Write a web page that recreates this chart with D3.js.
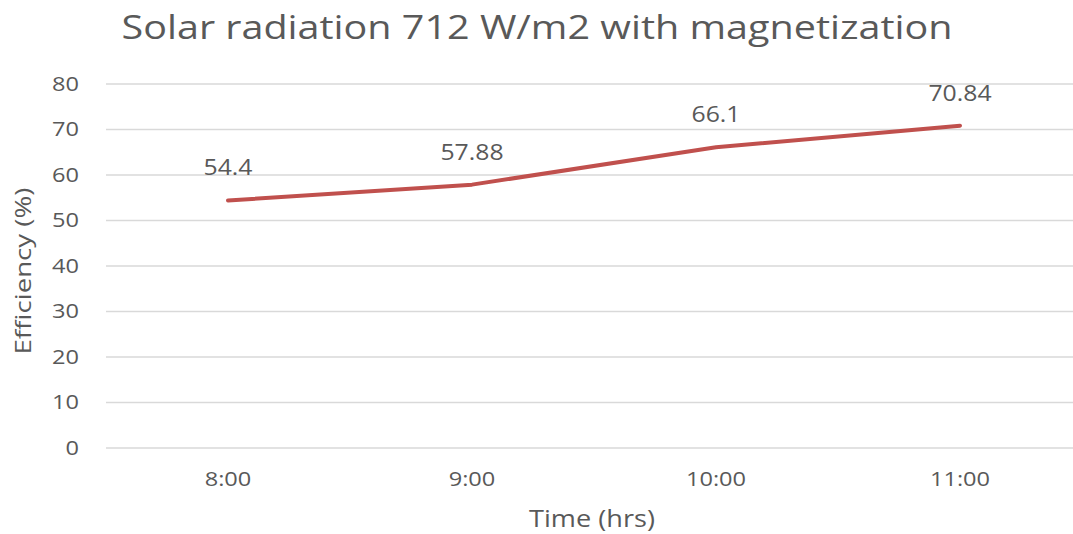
<!DOCTYPE html>
<html>
<head>
<meta charset="utf-8">
<script src="https://cdn.jsdelivr.net/npm/d3@7"></script>
<style>
  html, body { margin: 0; padding: 0; background: #fff; }
  svg { display: block; }
  text { font-family: "Open Sans", "DejaVu Sans", sans-serif; fill: #595959; }
</style>
</head>
<body>
<svg id="chart" width="1073" height="534"></svg>
<script>
// Efficiency readings through the morning
const times = ["8:00", "9:00", "10:00", "11:00"];
const efficiency = [54.4, 57.88, 66.1, 70.84];
const yTicks = [0, 10, 20, 30, 40, 50, 60, 70, 80];

const svg = d3.select("#chart");
const plot = { left: 106, right: 1082, top: 84, bottom: 448 };
const SX = 1.18; // horizontal widening of the glyphs

const x = d3.scaleBand().domain(times).range([plot.left, plot.right]);
const y = d3.scaleLinear().domain([0, 80]).range([plot.bottom, plot.top]);
const cx = t => x(t) + x.bandwidth() / 2;

// Horizontal gridlines
svg.append("g")
  .selectAll("line")
  .data(yTicks)
  .join("line")
  .attr("x1", plot.left)
  .attr("x2", plot.right)
  .attr("y1", d => y(d))
  .attr("y2", d => y(d))
  .attr("stroke", "#d9d9d9")
  .attr("stroke-width", 1.5);

// Y axis labels
const yAxis = d3.axisLeft(y).tickValues(yTicks).tickSize(0).tickPadding(0);
const gy = svg.append("g").attr("transform", `translate(${plot.left - 27},0)`).call(yAxis);
gy.select(".domain").remove();
gy.selectAll("text")
  .attr("font-size", 20)
  .attr("x", 0)
  .attr("transform", `scale(${SX},1)`)
  .style("fill", "#595959")
  .attr("font-family", "Open Sans, sans-serif");

// X axis labels
const xAxis = d3.axisBottom(x).tickSize(0).tickPadding(0);
const gx = svg.append("g").attr("transform", `translate(0,${plot.bottom + 24})`).call(xAxis);
gx.select(".domain").remove();
gx.selectAll("text")
  .attr("font-size", 20)
  .attr("transform", `scale(${SX},1)`)
  .style("fill", "#595959")
  .attr("font-family", "Open Sans, sans-serif");

// Efficiency line
const line = d3.line()
  .x((d, i) => cx(times[i]))
  .y(d => y(d));

svg.append("path")
  .datum(efficiency)
  .attr("d", line)
  .attr("fill", "none")
  .attr("stroke", "#c0504d")
  .attr("stroke-width", 4)
  .attr("stroke-linecap", "round")
  .attr("stroke-linejoin", "round");

// Value labels above each point
svg.append("g")
  .selectAll("text")
  .data(efficiency)
  .join("text")
  .attr("transform", (d, i) => `translate(${cx(times[i])},${y(d) - 25}) scale(${SX},1)`)
  .attr("text-anchor", "middle")
  .attr("font-size", 21)
  .text(d => d);

// Title
svg.append("text")
  .attr("transform", `translate(537,39) scale(${SX},1)`)
  .attr("text-anchor", "middle")
  .attr("font-size", 33.5)
  .text("Solar radiation 712 W/m2 with magnetization");

// Axis titles
svg.append("text")
  .attr("transform", `translate(592,527) scale(${SX},1)`)
  .attr("text-anchor", "middle")
  .attr("font-size", 23)
  .text("Time (hrs)");

svg.append("text")
  .attr("transform", `translate(31,271) rotate(-90)`)
  .attr("text-anchor", "middle")
  .attr("font-size", 21)
  .attr("textLength", 167)
  .attr("lengthAdjust", "spacingAndGlyphs")
  .text("Efficiency (%)");
</script>
</body>
</html>
